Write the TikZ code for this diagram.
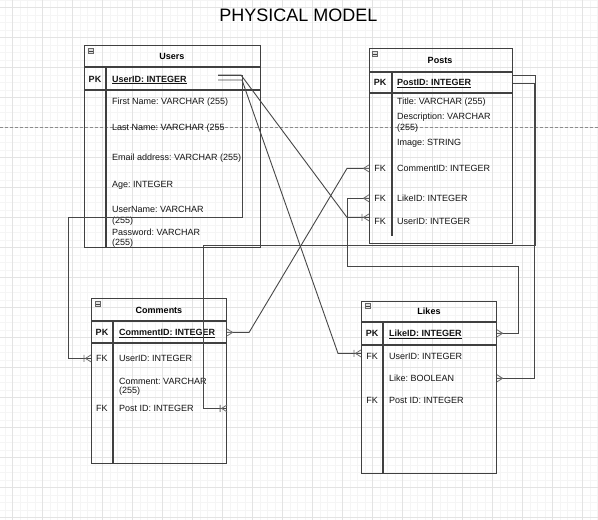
\documentclass[tikz,border=0pt]{standalone}
\usepackage{fontspec}
\setmainfont{Liberation Sans}
\frenchspacing
\begin{document}
\frenchspacing
\begin{tikzpicture}[x=1pt,y=-1pt,
  gridminor/.style={draw=black!4,line width=0.6pt},
  gridmajor/.style={draw=black!11,line width=0.6pt},
  pagebreak/.style={draw=black!45,line width=0.8pt,dash pattern=on 3pt off 2pt},
  tbl/.style={draw=black!75,line width=1.1pt,inner sep=0pt,anchor=north west},
  tline/.style={draw=black!75,line width=1.1pt},
  fld/.style={anchor=base west,inner sep=0pt,font=\fontsize{9}{10}\selectfont,text=black!92},
  keyf/.style={fld,font=\fontsize{9}{10}\selectfont\bfseries},
  colk/.style={anchor=base,inner sep=0pt,font=\fontsize{9}{10}\selectfont,text=black!92},
  colpk/.style={colk,font=\fontsize{9}{10}\selectfont\bfseries},
  ttl/.style={anchor=center,inner sep=0pt,font=\fontsize{9}{10}\selectfont\bfseries},
  minusbox/.style={draw=black!60,fill=black!12,minimum size=5.5pt,inner sep=0pt,line width=0.6pt,
    path picture={\draw[black!75,line width=0.7pt]
      ([xshift=1.2pt]path picture bounding box.west) -- ([xshift=-1.2pt]path picture bounding box.east);}},
  conn/.style={draw=black!72,line width=0.9pt},
  markline/.style={draw=black!58,line width=0.8pt},
  crow/.pic={\draw[markline] (-5.5,0) -- (0,-3.5) (-5.5,0) -- (0,3.5) (-5.5,0) -- (0,0);},
  crowbar/.pic={\draw[markline] (-5.5,0) -- (0,-3.5) (-5.5,0) -- (0,3.5) (-7,-3.5) -- (-7,3.5);}
]
\useasboundingbox (0,0) rectangle (598,520);
\fill[white] (0,0) rectangle (598,520);
% grid
\foreach \i in {0,...,79} \draw[gridminor] ({5.2+7.5*\i},0) -- ({5.2+7.5*\i},520);
\foreach \j in {0,...,70} \draw[gridminor] (0,{-0.2+7.5*\j}) -- (598,{-0.2+7.5*\j});
\foreach \i in {0,...,19} \draw[gridmajor] ({12.7+30*\i},0) -- ({12.7+30*\i},520);
\foreach \j in {0,...,17} \draw[gridmajor] (0,{7.3+30*\j}) -- (598,{7.3+30*\j});
\draw[pagebreak] (0,127.5) -- (598,127.5);

% title
\node[font=\fontsize{18}{20}\selectfont,inner sep=0pt] (title) at (298.5,15.5) {PHYSICAL MODEL};

% ---------- Users ----------
\node[tbl,minimum width=176pt,minimum height=202pt] (users) at (84,45) {};
\draw[tline] (84,67) -- (260,67) (84,90) -- (260,90) (106,67) -- (106,247);
\node[minusbox] (u-min) at (91,51) {};
\node[ttl] (u-ttl) at (172,56) {Users};
\node[colpk] (u-pk) at (95,82) {PK};
\node[keyf] (u-id) at (112,82) {\underline{UserID: INTEGER}};
\node[fld] (u-fn) at (112,104.5) {First Name: VARCHAR (255)};
\node[fld] (u-ln) at (112,130.5) {Last Name: VARCHAR (255};
\node[fld] (u-em) at (112,160.5) {Email address: VARCHAR (255)};
\node[fld] (u-age) at (112,187.5) {Age: INTEGER};
\node[fld] (u-un) at (112,212.5) {UserName: VARCHAR};
\node[fld] (u-un2) at (112,223) {(255)};
\node[fld] (u-pw) at (112,235.5) {Password: VARCHAR};
\node[fld] (u-pw2) at (112,245.5) {(255)};

% ---------- Posts ----------
\node[tbl,minimum width=143pt,minimum height=195pt] (posts) at (369,48) {};
\draw[tline] (369,72) -- (512,72) (369,93) -- (512,93) (392,72) -- (392,236);
\node[minusbox] (p-min) at (375,54) {};
\node[ttl] (p-ttl) at (440,60) {Posts};
\node[colpk] (p-pk) at (380,85.5) {PK};
\node[keyf] (p-id) at (397,85.5) {\underline{PostID: INTEGER}};
\node[fld] (p-title) at (397,104.5) {Title: VARCHAR (255)};
\node[fld] (p-desc) at (397,119.5) {Description: VARCHAR};
\node[fld] (p-desc2) at (397,130.5) {(255)};
\node[fld] (p-img) at (397,145.5) {Image: STRING};
\node[colk] (p-fk1) at (380,171.5) {FK};
\node[fld] (p-cid) at (397,171.5) {CommentID: INTEGER};
\node[colk] (p-fk2) at (380,201.5) {FK};
\node[fld] (p-lid) at (397,201.5) {LikeID: INTEGER};
\node[colk] (p-fk3) at (380,224.5) {FK};
\node[fld] (p-uid) at (397,224.5) {UserID: INTEGER};

% ---------- Comments ----------
\node[tbl,minimum width=135pt,minimum height=165pt] (comments) at (91,298) {};
\draw[tline] (91,321) -- (226,321) (91,343) -- (226,343) (113,321) -- (113,463);
\node[minusbox] (c-min) at (98,304) {};
\node[ttl] (c-ttl) at (159,310) {Comments};
\node[colpk] (c-pk) at (102,335.5) {PK};
\node[keyf] (c-id) at (119,335.5) {\underline{CommentID: INTEGER}};
\node[colk] (c-fk1) at (102,361.5) {FK};
\node[fld] (c-uid) at (119,361.5) {UserID: INTEGER};
\node[fld] (c-cm) at (119,384.5) {Comment: VARCHAR};
\node[fld] (c-cm2) at (119,393.5) {(255)};
\node[colk] (c-fk2) at (102,411.5) {FK};
\node[fld] (c-pid) at (119,411.5) {Post ID: INTEGER};

% ---------- Likes ----------
\node[tbl,minimum width=135pt,minimum height=172pt] (likes) at (361,301) {};
\draw[tline] (361,322) -- (496,322) (361,345) -- (496,345) (383,322) -- (383,473);
\node[minusbox] (l-min) at (368,306) {};
\node[ttl] (l-ttl) at (429,311) {Likes};
\node[colpk] (l-pk) at (372,336.5) {PK};
\node[keyf] (l-id) at (389,336.5) {\underline{LikeID: INTEGER}};
\node[colk] (l-fk1) at (372,359.5) {FK};
\node[fld] (l-uid) at (389,359.5) {UserID: INTEGER};
\node[fld] (l-like) at (389,381.5) {Like: BOOLEAN};
\node[colk] (l-fk2) at (372,403.5) {FK};
\node[fld] (l-pid) at (389,403.5) {Post ID: INTEGER};

% ---------- connector ends ----------
\coordinate (us1) at (218,75);
\coordinate (us2) at (218,80);
\coordinate (cU) at (c-uid.west -| comments.west);
\path (p-uid.west -| posts.west) ++(0,-4) coordinate (pU);
\path (l-uid.west -| likes.west) ++(0,-3) coordinate (lU);
\path (c-id.west -| comments.east) ++(0,-1) coordinate (cC);
\coordinate (pC) at (p-cid.west -| posts.west);
\coordinate (pL) at (p-lid.west -| posts.west);
\path (l-id.west -| likes.east) ++(0,-1) coordinate (lL);
\path (p-id.west -| posts.east) ++(0,-8) coordinate (pP1);
\coordinate (pP2) at (p-id.west -| posts.east);
\coordinate (cP) at (c-pid.west -| comments.east);
\coordinate (lK) at (l-like.west -| likes.east);

% ---------- connectors ----------
\draw[conn] (us1) -- (242,75) -- (242,217) -| ([xshift=-23pt]cU) -- (cU);
\draw[conn] (us1) -- (241,75) -- ([xshift=-22pt]pU) -- (pU);
\draw[conn] (us2) -- (242,80) -- ([xshift=-23pt]lU) -- (lU);
\draw[conn] (cC) -- ++(22,0) -- ([xshift=-22pt]pC) -- (pC);
\draw[conn] (pL) -- ++(-22,0) |- (518,266) |- (lL);
\draw[conn] (pP1) -- ++(22,0) |- (203,245) |- (cP);
\draw[conn] (pP2) -- ++(21,0) |- (lK);

% ---------- markers ----------
\pic at (cU) {crowbar};
\pic at (pU) {crowbar};
\pic at (lU) {crowbar};
\pic at (cP) {crowbar};
\pic at (pC) {crow};
\pic[rotate=180] at (cC) {crow};
\pic at (pL) {crow};
\pic[rotate=180] at (lL) {crow};
\pic[rotate=180] at (lK) {crow};
\end{tikzpicture}
\end{document}
